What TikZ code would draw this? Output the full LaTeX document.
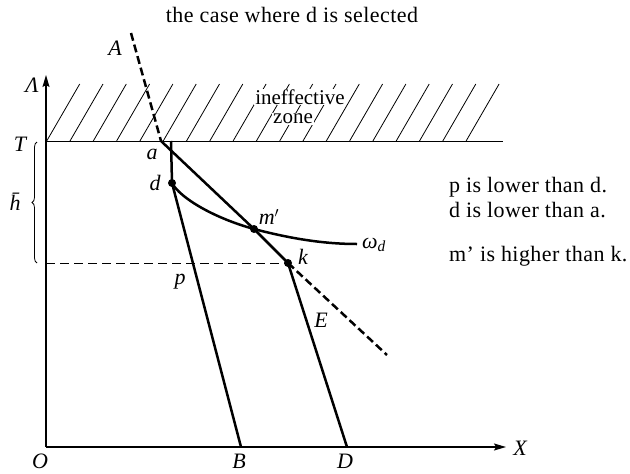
\documentclass[tikz,border=0pt]{standalone}
\usepackage{fontspec}
\setmainfont{Liberation Serif}
\usetikzlibrary{arrows.meta,decorations.pathreplacing}
\tikzset{
  axis/.style={line width=1.3pt,-{Stealth[length=12pt,width=7pt,inset=2pt]}},
  thickline/.style={line width=2.5pt},
  dashline/.style={line width=2.5pt,dash pattern=on 8pt off 4pt},
  thindash/.style={line width=1pt,dash pattern=on 9pt off 5pt},
  hatch/.style={line width=0.8pt},
  dot/.style={circle,fill=black,inner sep=0pt,minimum size=8pt},
  lbl/.style={font=\fontsize{22}{24}\selectfont\itshape,inner sep=1pt},
  txt/.style={font=\fontsize{22}{24}\selectfont\addfontfeature{LetterSpace=2},inner sep=1pt},
  zonetxt/.style={font=\fontsize{21}{23}\selectfont,fill=white,inner sep=1pt},
}
\begin{document}
\begin{tikzpicture}[x=1pt,y=-1pt]
\useasboundingbox (0,0) rectangle (630,474);
% coordinates
\coordinate (O) at (46,447);
\coordinate (Ytop) at (46,75);
\coordinate (Xend) at (506,447);
\coordinate (Tl) at (46,141);
\coordinate (Tr) at (503,141);
\coordinate (Atop) at (131,33);
\coordinate (a) at (161,141);
\coordinate (a2) at (171,141);
\coordinate (Eend) at (387,355);
\coordinate (B) at (241,447);
\coordinate (D) at (347,447);
\coordinate (Hl) at (46,263);
\coordinate (wend) at (357,244);
% hatching
\foreach \i in {0,...,18}{
  \draw[hatch] (46.7+23.3*\i,141) -- ++(33,-57);
}
\node[zonetxt] (ineff) at (300,97) {ineffective};
\node[zonetxt] (zone) at (293,119) {zone};
\draw[line width=1pt] (Tl) -- (Tr);
% axes
\draw[axis] (O) -- (Ytop);
\draw[axis] (O) -- (Xend);
% points
\node[dot] (d) at (172,183) {};
\node[dot] (m) at (254,229) {};
\node[dot] (k) at (288,263) {};
% lines
\draw[dashline] (Atop) -- (a);
\draw[thickline] (a) -- (m.center) -- (k.center);
\draw[dashline] (k.center) -- (Eend);
\draw[thickline] (a2) -- (d.center) -- (B);
\draw[thickline] (k.center) -- (D);
\draw[thickline] (d.center) .. controls (180,198) and (214,218) .. (m.center)
  .. controls (292,239) and (325,244) .. (wend);
\draw[thindash] (Hl) -- (k.center);
% brace
\draw[line width=0.8pt,decorate,decoration={brace,amplitude=5pt}] (37,263) -- (37,142);
% labels
\node[txt] (title) at (292,15) {the case where d is selected};
\node[lbl] (lA) at (115,48) {A};
\node[lbl] (lL) at (32,85) {Λ};
\node[lbl] (lT) at (20,144) {T};
\node[lbl] (lh) at (15,202) {h̄};
\node[lbl] (la) at (152,154) {a};
\node[lbl] (ld) at (155,183) {d};
\node[lbl] (lm) at (269,217) {m$'$};
\node[lbl] (lw) at (374,245) {ω\textsubscript{d}};
\node[lbl] (lk) at (303,257) {k};
\node[lbl] (lp) at (180,282) {p};
\node[lbl] (lE) at (321,320) {E};
\node[lbl,anchor=base,inner sep=0pt] (lO) at (40,468) {O};
\node[lbl,anchor=base,inner sep=0pt] (lB) at (239,468) {B};
\node[lbl,anchor=base,inner sep=0pt] (lD) at (345,468) {D};
\node[lbl] (lX) at (520,448) {X};
\node[txt,anchor=west] (r1) at (448,187) {p is lower than d.};
\node[txt,anchor=west] (r2) at (448,210) {d is lower than a.};
\node[txt,anchor=west] (r3) at (448,256) {m’ is higher than k.};
\end{tikzpicture}
\end{document}
